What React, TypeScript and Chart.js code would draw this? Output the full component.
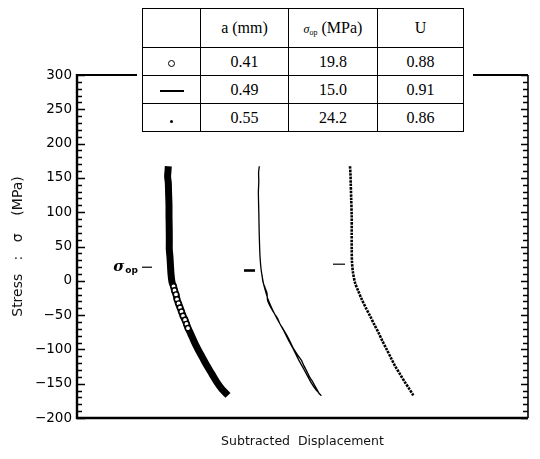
import { useEffect, useRef } from "react";
import { Chart, registerables } from "chart.js";

Chart.register(...registerables);

// ---------- data ----------
const yTickValues = [-200, -150, -100, -50, 0, 50, 100, 150, 200, 250, 300];
const Y_MIN = -200;
const Y_MAX = 300;
const X_MIN = 0;
const X_MAX = 451;
const MINOR_STEP = 10;

// a = 0.41 mm (circles)
const c1X = [91.3, 91, 90.6, 91.3, 91.6, 92, 92, 92.2, 92.3, 92.3, 93, 93.5, 94, 95, 96.5, 97.5, 99, 100, 101.5, 103, 104.5, 106, 108, 109.5, 111, 113, 117, 121, 125.5, 130, 135, 140, 145, 151];
const c1Y = [167, 160, 152, 143, 128, 110, 94, 78, 60, 46, 34, 21.5, 10, -2, -8, -14, -20, -27, -33, -39, -45, -51, -57, -63, -69, -75, -88, -100, -112, -124, -136, -148, -158, -167];

// a = 0.49 mm (line), loading and unloading branches
const c2X = [182.3, 181.6, 181.8, 181.4, 181.5, 181.8, 182, 182.2, 182.5, 182.8, 183.2, 184, 185.2, 186.5, 188.5, 191, 194.5, 198.5, 203, 207.5, 212, 216.5, 220.5, 225, 229.5, 234, 238.5, 244,
  242, 239, 236, 233, 229.5, 227, 224.5, 221, 217, 213.5, 210, 206, 203, 201, 197.5, 193.5, 190.5, 190, 188, 186, 185];
const c2Y = [167, 158, 145, 130, 118, 100, 85, 70, 55, 42, 31, 18, 6, -4, -15, -27, -39, -51, -63, -75, -88, -100, -112, -124, -136, -148, -158, -167,
  -164, -156, -148, -141, -131, -124, -116, -109, -100, -90, -80, -70, -63, -56, -48, -38, -28, -18, -10, -2, 8];

// a = 0.55 mm (dots)
const c3X = [273, 273.5, 273.7, 274.2, 274.7, 274.7, 274.7, 275, 276, 278, 281, 284.7, 288.7, 293, 297, 301.3, 305.5, 309.7, 313.8, 318, 323, 328, 332.5, 336.3];
const c3Y = [167, 155, 143, 120, 94, 70, 46, 27, 12, -2.6, -14, -27, -39, -51, -63, -75, -88, -100, -112, -124, -136, -148, -158, -167];

// opening-stress markers
const openingStress = [19.8, 15.0, 24.2];
const markerXs = [[65, 75], [167, 178], [256, 268]];

// table
const tableHeaders = ["", "a (mm)", "σop (MPa)", "U"];
const crackLength = ["0.41", "0.49", "0.55"];
const openingStressText = ["19.8", "15.0", "24.2"];
const uRatio = ["0.88", "0.91", "0.86"];
const symbols = ["circle", "line", "dot"];

const toPts = (xs: number[], ys: number[]) => xs.map((x, i) => ({ x, y: ys[i] }));

const framePlugin = {
  id: "frame",
  afterDraw(chart: any) {
    const { ctx, chartArea: a, scales } = chart;
    const ys = scales.y;
    const xs = scales.x;
    ctx.save();
    ctx.strokeStyle = "#000";
    ctx.lineCap = "butt";
    // left + bottom
    ctx.lineWidth = 2.4;
    ctx.beginPath();
    ctx.moveTo(a.left, a.top - 1);
    ctx.lineTo(a.left, a.bottom);
    ctx.lineTo(a.right, a.bottom);
    ctx.stroke();
    // right
    ctx.lineWidth = 1.6;
    ctx.beginPath();
    ctx.moveTo(a.right, a.top);
    ctx.lineTo(a.right, a.bottom);
    ctx.stroke();
    // top segments (interrupted by the table)
    ctx.lineWidth = 1.8;
    ctx.beginPath();
    ctx.moveTo(a.left, a.top);
    ctx.lineTo(137, a.top);
    ctx.moveTo(473, a.top);
    ctx.lineTo(a.right, a.top);
    ctx.stroke();
    // ticks (inward)
    ctx.lineWidth = 1.5;
    ctx.beginPath();
    for (let v = Y_MIN; v <= Y_MAX; v += MINOR_STEP) {
      const py = Math.round(ys.getPixelForValue(v)) + 0.5;
      const major = v % 50 === 0;
      const lenL = major ? 8 : 5;
      const lenR = major ? 7 : 5;
      ctx.moveTo(a.left, py);
      ctx.lineTo(a.left + lenL, py);
      ctx.moveTo(a.right, py);
      ctx.lineTo(a.right - lenR, py);
    }
    ctx.stroke();
    // sigma_op label for first curve
    const lx = xs.getPixelForValue(markerXs[0][0]) - 4;
    const ly = ys.getPixelForValue(openingStress[0]);
    ctx.fillStyle = "#000";
    ctx.textBaseline = "middle";
    ctx.textAlign = "right";
    ctx.font = "bold 9px 'DejaVu Sans'";
    ctx.fillText("op", lx, ly + 3);
    const opW = ctx.measureText("op").width;
    ctx.font = "italic bold 15px 'DejaVu Serif'";
    ctx.fillText("σ", lx - opW - 1, ly);
    ctx.restore();
  },
};

function SymbolMark({ kind }: { kind: string }) {
  if (kind === "circle")
    return <span style={{ display: "inline-block", width: 5, height: 5, border: "1.5px solid #000", borderRadius: "50%" }} />;
  if (kind === "line")
    return <span style={{ display: "inline-block", width: 24, height: 1.6, background: "#000", verticalAlign: "middle" }} />;
  return <span style={{ display: "inline-block", width: 3, height: 3, background: "#000", borderRadius: "50%" }} />;
}

export default function App() {
  const ref = useRef<HTMLCanvasElement | null>(null);

  useEffect(() => {
    if (!ref.current) return;
    const black = "#000";
    const chart = new Chart(ref.current, {
      type: "scatter",
      data: {
        datasets: [
          {
            data: toPts(c1X, c1Y),
            showLine: true,
            borderColor: black,
            borderWidth: 7,
            tension: 0.3,
            pointRadius: (c: any) => (c.raw && c.raw.y < -4 && c.raw.y > -72 ? 2.6 : 0),
            pointBackgroundColor: "#fff",
            pointBorderColor: black,
            pointBorderWidth: 1.4,
          },
          {
            data: toPts(c2X, c2Y),
            showLine: true,
            borderColor: black,
            borderWidth: 1.3,
            tension: 0.2,
            pointRadius: 0,
          },
          {
            data: toPts(c3X, c3Y),
            showLine: true,
            borderColor: black,
            borderWidth: 2.6,
            borderDash: [2.5, 1],
            tension: 0.3,
            pointRadius: 0,
          },
          ...openingStress.map((s, i) => ({
            data: [
              { x: markerXs[i][0], y: s },
              { x: markerXs[i][1], y: s },
            ],
            showLine: true,
            borderColor: black,
            borderWidth: i === 1 ? 2.6 : 1.2,
            pointRadius: 0,
          })),
        ],
      },
      options: {
        responsive: false,
        animation: false,
        devicePixelRatio: 1,
        layout: { padding: { top: 75, right: 12, left: 0, bottom: 0 } },
        plugins: { legend: { display: false }, tooltip: { enabled: false } },
        scales: {
          x: {
            type: "linear",
            min: X_MIN,
            max: X_MAX,
            grid: { display: false, drawTicks: false },
            border: { display: false },
            ticks: { display: false },
            title: {
              display: true,
              text: "Subtracted  Displacement",
              color: "#111",
              font: { family: "'DejaVu Sans'", size: 12.5 },
              padding: { top: 0, bottom: 10 },
            },
            afterFit: (s: any) => {
              s.height = 41;
            },
          },
          y: {
            type: "linear",
            min: Y_MIN,
            max: Y_MAX,
            afterBuildTicks: (s: any) => {
              s.ticks = yTickValues.map((v) => ({ value: v }));
            },
            grid: { display: false, drawTicks: false },
            border: { display: false },
            ticks: {
              color: "#000",
              padding: 5,
              font: { family: "'DejaVu Sans'", size: 13.5 },
              callback: (v: any) => (Number(v) < 0 ? "\u2212" + Math.abs(Number(v)) : String(v)),
            },
            title: {
              display: true,
              text: "Stress   :   σ    (MPa)",
              color: "#111",
              font: { family: "'DejaVu Sans'", size: 14 },
              padding: { top: 10, bottom: 0 },
            },
            afterFit: (s: any) => {
              s.width = 77;
            },
          },
        },
      },
      plugins: [framePlugin],
    });
    return () => chart.destroy();
  }, []);

  const cell: any = {
    border: "1.5px solid #000",
    padding: 0,
    textAlign: "center",
    verticalAlign: "middle",
  };

  return (
    <div style={{ position: "absolute", left: 0, top: 0, width: 540, height: 459, background: "#fff" }}>
      <canvas ref={ref} width={540} height={459} style={{ display: "block", width: 540, height: 459 }} />
      <table
        style={{
          position: "absolute",
          left: 142,
          top: 8,
          width: 321,
          borderCollapse: "collapse",
          tableLayout: "fixed",
          fontFamily: "'Liberation Serif', serif",
          fontSize: 16,
          color: "#000",
          background: "#fff",
          lineHeight: 1,
        }}
      >
        <colgroup>
          <col style={{ width: 58 }} />
          <col style={{ width: 88 }} />
          <col style={{ width: 89 }} />
          <col style={{ width: 86 }} />
        </colgroup>
        <tbody>
          <tr style={{ height: 39 }}>
            <td style={cell}>{tableHeaders[0]}</td>
            <td style={cell}>{tableHeaders[1]}</td>
            <td style={cell}>
              <span style={{ fontStyle: "italic", fontSize: 12 }}>σ</span>
              <span style={{ fontSize: 8, position: "relative", top: 2 }}>op</span>
              <span> (MPa)</span>
            </td>
            <td style={cell}>{tableHeaders[3]}</td>
          </tr>
          {crackLength.map((a, i) => (
            <tr key={i} style={{ height: 28 }}>
              <td style={cell}>
                <SymbolMark kind={symbols[i]} />
              </td>
              <td style={cell}>{a}</td>
              <td style={cell}>{openingStressText[i]}</td>
              <td style={cell}>{uRatio[i]}</td>
            </tr>
          ))}
        </tbody>
      </table>
    </div>
  );
}
